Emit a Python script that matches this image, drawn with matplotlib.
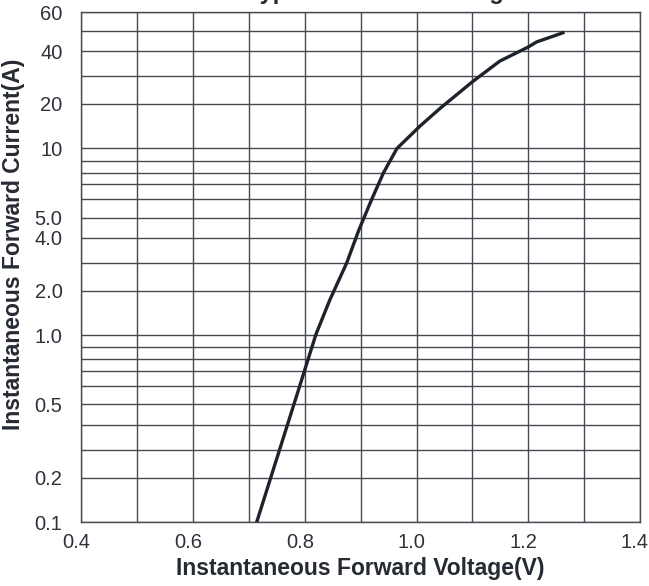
import numpy as np
import matplotlib
matplotlib.use("Agg")
import matplotlib.pyplot as plt
import matplotlib.transforms as mtransforms

plt.rcParams['font.family'] = ['Liberation Sans', 'DejaVu Sans']

# forward curve
voltage = [0.714, 0.791, 0.820, 0.845, 0.875, 0.897, 0.920, 0.941, 0.965,
           1.006, 1.042, 1.100, 1.149, 1.200, 1.215, 1.262]
current = [0.1, 0.6, 1.02, 1.8, 3.0, 4.4, 6.0, 8.0, 10.0,
           15.0, 19.0, 28.0, 36.0, 42.0, 44.5, 49.0]

x_major = [0.4, 0.6, 0.8, 1.0, 1.2, 1.4]
x_minor = [0.5, 0.7, 0.9, 1.1, 1.3]
y_major = [0.1, 0.2, 0.5, 1.0, 2.0, 4.0, 5.0, 10, 20, 40, 60]
y_major_labels = ['0.1', '0.2', '0.5', '1.0', '2.0', '4.0', '5.0', '10', '20', '40', '60']
y_minor = [0.3, 0.4, 0.6, 0.7, 0.8, 0.9, 3, 6, 7, 8, 9, 30, 50]

# the printed chart paper is not a true log grid: where each mantissa sits inside a decade
MANT = np.arange(1, 11, dtype=float)
MPOS = np.array([0, 44.5, 72.3, 97.5, 117.8, 136.3, 151, 162.8, 174.8, 187.0]) / 187.0


def fwd(v):
    v = np.clip(np.asarray(v, dtype=float), 1e-4, None)
    d = np.floor(np.log10(v) + 1e-12)
    m = v / 10.0 ** d
    return d + np.interp(m, MANT, MPOS)


def inv(p):
    p = np.asarray(p, dtype=float)
    d = np.floor(p)
    return 10.0 ** d * np.interp(p - d, MPOS, MANT)


fig = plt.figure(figsize=(6.49, 5.86), dpi=100)
ax = fig.add_axes([81.3 / 649, 1 - 522 / 586, (640 - 81.3) / 649, (522 - 12.3) / 586])

ax.set_yscale('function', functions=(fwd, inv))
ax.set_xlim(0.4, 1.4)
ax.set_ylim(0.1, 60)

ax.plot(voltage, current, color='#1e222b', lw=2.4, solid_joinstyle='round', zorder=3)

ax.set_xticks(x_major)
ax.set_xticklabels(['%.1f' % v for v in x_major])
ax.set_xticks(x_minor, minor=True)
ax.set_yticks(y_major)
ax.set_yticklabels(y_major_labels)
ax.set_yticks(y_minor, minor=True)
ax.yaxis.set_minor_formatter(plt.NullFormatter())
ax.xaxis.set_minor_formatter(plt.NullFormatter())

grid_c = '#474a52'
ax.grid(True, which='both', color=grid_c, lw=1.0)
for s in ax.spines.values():
    s.set_color(grid_c)
    s.set_linewidth(1.0)

ax.tick_params(which='both', length=0, labelsize=14.5, labelcolor='#2e323a')
ax.tick_params(axis='x', pad=8)
ax.tick_params(axis='y', pad=13.5)

shift = mtransforms.ScaledTranslation(-5 / 100, 0, fig.dpi_scale_trans)
for lbl in ax.get_xticklabels():
    lbl.set_transform(lbl.get_transform() + shift)

ax.set_xlabel('Instantaneous Forward Voltage(V)', fontsize=16.5, fontweight='bold', color='#252a33')
ax.set_ylabel('Instantaneous Forward Current(A)', fontsize=16.5, fontweight='bold', color='#252a33')
ax.xaxis.set_label_coords(0.5, -0.068)
ax.yaxis.set_label_coords(-0.1, 0.545)

# title sits above the cropped top edge, only its descenders show
fig.text(247 / 649, 1 + 1 / 586, 'Typical Forward Voltage Characteristics', ha='left', va='baseline',
         fontsize=17, fontweight='bold', color='#252a33')

fig.savefig('out.png', dpi=100)
